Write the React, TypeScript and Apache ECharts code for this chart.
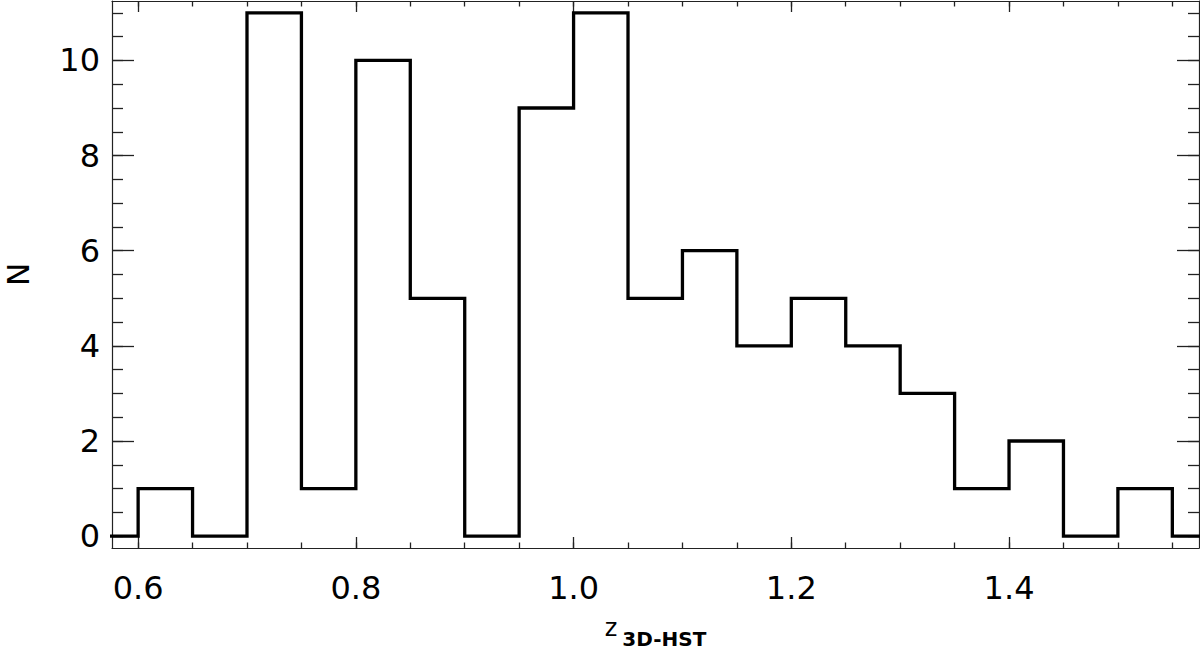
import React, { useEffect, useRef } from "react";
import * as echarts from "echarts";

const binEdges = [0.55, 0.6, 0.65, 0.7, 0.75, 0.8, 0.85, 0.9, 0.95, 1.0, 1.05, 1.1, 1.15, 1.2, 1.25, 1.3, 1.35, 1.4, 1.45, 1.5, 1.55, 1.6];
const counts = [0, 1, 0, 11, 1, 10, 5, 0, 9, 11, 5, 6, 4, 5, 4, 3, 1, 2, 0, 1, 0, 0];

const xMajorTicks = [0.6, 0.8, 1.0, 1.2, 1.4];
const xMinorTicks = [0.6, 0.65, 0.7, 0.75, 0.8, 0.85, 0.9, 0.95, 1.0, 1.05, 1.1, 1.15, 1.2, 1.25, 1.3, 1.35, 1.4, 1.45, 1.5, 1.55];
const yMajorTicks = [0, 2, 4, 6, 8, 10];
const yMinorTicks = [0, 0.5, 1, 1.5, 2, 2.5, 3, 3.5, 4, 4.5, 5, 5.5, 6, 6.5, 7, 7.5, 8, 8.5, 9, 9.5, 10, 10.5, 11];

const X_MIN = 0.576;
const X_MAX = 1.5745;
const Y_MIN = -0.25;
const Y_MAX = 11.25;

const FONT = "'DejaVu Sans', 'Liberation Sans', Arial, sans-serif";
const AXIS_COLOR = "#222";

export default function App() {
  const ref = useRef<HTMLDivElement>(null);
  useEffect(() => {
    if (!ref.current) return;
    const chart = echarts.init(ref.current, null, { renderer: "svg" });

    const xAxisBase = (position: "bottom" | "top", ticks: number[], len: number, labels: boolean, showLine: boolean) => ({
      type: "value",
      position,
      min: X_MIN,
      max: X_MAX,
      splitLine: { show: false },
      axisLine: { show: showLine, onZero: false, lineStyle: { color: AXIS_COLOR, width: 1.2 } },
      axisTick: { show: true, inside: true, length: len, customValues: ticks, lineStyle: { color: AXIS_COLOR, width: 1.3 } },
      axisLabel: labels
        ? {
            show: true,
            customValues: xMajorTicks,
            margin: 24,
            fontSize: 32,
            color: "#000",
            fontFamily: FONT,
            formatter: (v: number) => v.toFixed(1),
          }
        : { show: false },
    });

    const yAxisBase = (position: "left" | "right", ticks: number[], len: number, labels: boolean, showLine: boolean) => ({
      type: "value",
      position,
      min: Y_MIN,
      max: Y_MAX,
      splitLine: { show: false },
      axisLine: { show: showLine, onZero: false, lineStyle: { color: AXIS_COLOR, width: 1.2 } },
      axisTick: { show: true, inside: true, length: len, customValues: ticks, lineStyle: { color: AXIS_COLOR, width: 1.3 } },
      axisLabel: labels
        ? {
            show: true,
            customValues: yMajorTicks,
            margin: 12,
            fontSize: 32,
            color: "#000",
            fontFamily: FONT,
            formatter: (v: number) => String(Math.round(v)),
          }
        : { show: false },
    });

    const xMain: any = xAxisBase("bottom", xMajorTicks, 11, true, true);
    xMain.name = "{z|z}{s|3D-HST}";
    xMain.nameLocation = "middle";
    xMain.nameGap = 79;
    xMain.nameTextStyle = {
      fontFamily: FONT,
      color: "#000",
      rich: {
        z: { fontSize: 24, lineHeight: 22, fontFamily: FONT, color: "#000", padding: [0, 5, 9, 0], verticalAlign: "bottom" },
        s: { fontSize: 20, lineHeight: 20, fontFamily: FONT, color: "#000", fontWeight: "bold", verticalAlign: "bottom" },
      },
    };

    const yMain: any = yAxisBase("left", yMajorTicks, 22, true, true);
    yMain.name = "N";
    yMain.nameLocation = "middle";
    yMain.nameGap = 80;
    yMain.nameTextStyle = { fontFamily: FONT, fontSize: 31, lineHeight: 28, color: "#000" };

    const option: any = {
      animation: false,
      backgroundColor: "#fff",
      grid: { left: 112, right: 1, top: 1, bottom: 106, containLabel: false, outerBoundsMode: "none" },
      xAxis: [
        xMain,
        xAxisBase("bottom", xMinorTicks, 5.5, false, false),
        xAxisBase("top", xMajorTicks, 11, false, true),
        xAxisBase("top", xMinorTicks, 5.5, false, false),
      ],
      yAxis: [
        yMain,
        yAxisBase("left", yMinorTicks, 11, false, false),
        yAxisBase("right", yMajorTicks, 22, false, true),
        yAxisBase("right", yMinorTicks, 11, false, false),
      ],
      series: [
        {
          type: "line",
          xAxisIndex: 0,
          yAxisIndex: 0,
          step: "end",
          symbol: "none",
          clip: true,
          lineStyle: { color: "#000", width: 3.3, join: "miter", cap: "square" },
          data: binEdges.map((e, i) => [e, counts[i]]),
        },
      ],
    };
    chart.setOption(option);
    return () => chart.dispose();
  }, []);

  return (
    <div
      ref={ref}
      style={{ position: "absolute", left: 0, top: 0, width: 1200, height: 654, background: "#fff" }}
    />
  );
}
